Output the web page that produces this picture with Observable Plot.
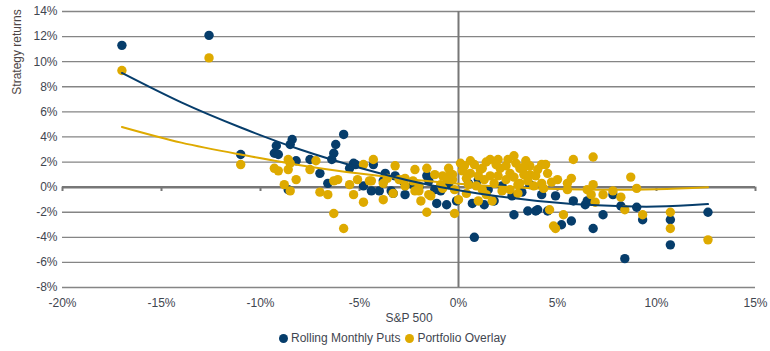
<!DOCTYPE html>
<html>
<head>
<meta charset="utf-8">
<script src="https://cdn.jsdelivr.net/npm/d3@7"></script>
<script src="https://cdn.jsdelivr.net/npm/@observablehq/plot@0.6"></script>
<style>
  body { margin: 0; background: #fff; font-family: "Liberation Sans", Arial, sans-serif; }
  #wrap { position: relative; width: 770px; height: 351px; }
  #legend { position: absolute; left: 279px; top: 331px; font-size: 12px; color: #3f4650; white-space: nowrap; line-height: 14px; }
  #legend span.sw { display: inline-block; width: 9px; height: 9px; border-radius: 50%; vertical-align: -1px; margin-right: 3px; }
  #legend span.item { margin-right: 5px; }
  #ylabel { position: absolute; left: 17px; top: 52px; transform: translate(-50%, -50%) rotate(-90deg); font-size: 12px; color: #4d4545; white-space: nowrap; line-height: 14px; }
</style>
</head>
<body>
<div id="wrap"><div id="chart"></div>
<div id="ylabel">Strategy returns</div>
<div id="legend"></div></div>
<script>
// S&P 500 monthly return (%) and strategy returns (%)
const navyX = [-17.0,-12.6,-11.0,-9.2,-9.3,-9.1,-8.4,-8.5,-8.2,-7.5,-7.0,-6.6,-6.2,-6.3,-6.4,-5.8,-8.6,-5.3,-5.2,-5.5,-4.3,-4.8,-4.4,-3.7,-3.8,-4.0,-3.4,-3.2,-2.8,-2.7,-2.3,-1.6,-1.5,-1.1,-0.6,-0.1,0.8,1.3,1.8,2.8,3.5,3.9,4.5,4.9,5.2,5.7,5.8,6.4,6.8,7.3,7.8,8.2,8.4,9.0,9.3,10.7,10.7,12.6,2.7,0.7,4.0,-3.3,-0.9,6.5,0.5,1.5,2.2,3.2,4.2,-0.5,-2.0,1.0,3.6,-1.2];
const navyY = [11.3,12.1,2.6,3.3,2.7,2.6,3.8,3.4,2.1,2.2,1.1,0.3,3.4,2.7,2.2,4.2,-0.2,1.9,1.8,1.5,1.8,0.1,-0.3,1.1,0.5,-0.3,-0.3,0.9,0.5,-0.6,0.2,0.9,0.5,-1.3,-1.4,-1.1,-4.0,-1.4,-1.1,-2.2,-1.9,-1.9,-1.9,-0.7,-3.0,-2.7,-1.1,-1.4,-3.3,-2.2,-0.6,-1.5,-5.7,-1.6,-2.6,-2.6,-4.6,-2.0,-0.7,-1.3,-1.8,-0.5,-0.3,-1.1,0.3,-0.2,0.1,-0.4,-0.6,0.2,0.0,0.6,0.2,-0.2];

const goldX = [-17.0,-12.6,-11.0,-9.3,-9.1,-8.6,-8.5,-8.6,-8.8,-8.2,-8.5,-7.5,-7.2,-7.0,-6.6,-6.3,-6.1,-6.3,-5.8,-5.5,-5.3,-5.1,-4.8,-4.3,-4.8,-4.4,-3.8,-3.2,-3.3,-2.8,-2.2,-1.6,-2.0,-1.9,-1.6,-1.4,-0.8,-0.8,-0.4,-0.2,0.1,0.3,0.6,1.0,1.2,1.6,0.6,1.1,2.0,2.1,2.8,3.6,4.2,-0.3,0.4,1.3,1.8,2.4,3.1,3.8,4.2,5.0,0.0,1.7,4.6,4.8,0.4,3.0,1.2,4.4,5.8,6.8,5.5,5.7,5.5,6.5,6.8,6.7,6.9,7.3,7.8,8.2,8.7,9.0,9.3,8.4,5.3,4.9,3.6,3.3,3.0,4.3,3.1,10.7,10.7,12.6,-4.5,-3.8,-3.6,-3.0,-2.7,-2.3,-2.7,-2.2,-2.0,-0.9,-0.6,-0.3,-0.2,-1.5,2.6,3.4,3.9,4.5,2.2,1.6,0.9,2.4,0.8,1.4,2.5,1.9,2.9,3.3,0.2,1.0,2.0,2.8,3.5,4.0,4.7,1.4,2.6,0.5,-0.5,-1.2];
const goldY = [9.3,10.3,1.8,1.5,1.3,2.2,1.9,1.4,0.2,0.6,-0.3,1.4,2.1,-0.4,-0.6,0.5,0.6,-2.1,-3.3,0.2,-0.6,0.6,1.8,2.2,-1.2,0.5,-1.0,1.7,-0.5,0.6,1.4,1.5,-0.3,-1.1,-2.0,-0.7,0.9,-0.1,1.1,-2.1,1.9,1.7,1.1,-1.1,1.5,2.2,2.1,1.4,2.2,1.5,2.5,1.7,1.8,0.6,0.7,0.6,0.3,0.6,0.3,0.1,0.3,0.6,-1.0,-1.1,-1.8,-3.1,-0.5,-0.5,-0.2,1.8,2.2,2.4,0.3,0.7,-0.2,-0.2,0.2,-0.6,-1.2,-0.6,-0.3,-0.8,0.8,-0.1,-2.2,-1.8,-2.2,-3.3,1.0,1.0,0.2,-0.1,1.5,-2.0,-3.3,-4.2,0.5,0.3,0.7,0.6,0.7,0.5,0.1,-0.3,0.1,0.2,0.7,1.0,-0.2,-0.6,1.1,2.1,0.9,1.1,-0.3,0.9,0.1,1.7,1.8,2.0,2.2,1.8,1.9,1.6,1.3,0.9,0.9,0.8,0.5,1.4,0.4,-0.6,-0.2,0.2,1.5,1.0];

// Trend lines
const trendX = [-17, -14, -11, -8, -5, -2, 1, 4, 7, 10, 12.6];
const navyTrend = [9.1, 6.75, 4.75, 3.0, 1.55, 0.35, -0.5, -1.1, -1.45, -1.55, -1.35];
const goldTrend = [4.8, 3.55, 2.6, 1.75, 1.08, 0.55, 0.15, -0.1, -0.2, -0.16, 0.0];

const xTicks = [-20, -15, -10, -5, 0, 5, 10, 15];
const yTicks = [-8, -6, -4, -2, 0, 2, 4, 6, 8, 10, 12, 14];

const seriesNames = ["Rolling Monthly Puts", "Portfolio Overlay"];
const colors = ["#063d6b", "#deaa00"];

const navy = navyX.map((x, i) => ({x, y: navyY[i]}));
const gold = goldX.map((x, i) => ({x, y: goldY[i]}));
const navyLine = trendX.map((x, i) => ({x, y: navyTrend[i]}));
const goldLine = trendX.map((x, i) => ({x, y: goldTrend[i]}));
const pct = d => d + "%";
const labelColor = "#3f4650";

const chart = Plot.plot({
  width: 770,
  height: 325,
  marginTop: 11,
  marginLeft: 62,
  marginRight: 15,
  marginBottom: 38,
  style: {fontFamily: "'Liberation Sans', Arial, sans-serif", fontSize: "12px", color: labelColor, background: "#fff"},
  x: {domain: [-20, 15]},
  y: {domain: [-8, 14]},
  marks: [
    Plot.ruleY(yTicks, {stroke: "#858585", strokeWidth: 1.3}),
    Plot.ruleX([0], {stroke: "#777", strokeWidth: 2}),
    Plot.ruleY([0], {stroke: "#777", strokeWidth: 2.5}),
    Plot.ruleX(xTicks, {y1: 0, y2: -0.35, stroke: "#777", strokeWidth: 2}),
    Plot.axisX({ticks: xTicks, tickFormat: pct, tickSize: 0, tickPadding: 11, label: null}),
    Plot.axisY({ticks: yTicks, tickFormat: pct, tickSize: 0, tickPadding: 5, label: null}),
    Plot.dot(navy, {x: "x", y: "y", r: 4.7, fill: colors[0]}),
    Plot.dot(gold, {x: "x", y: "y", r: 4.7, fill: colors[1]}),
    Plot.line(goldLine, {x: "x", y: "y", stroke: colors[1], strokeWidth: 2, curve: "natural"}),
    Plot.line(navyLine, {x: "x", y: "y", stroke: colors[0], strokeWidth: 2, curve: "natural"}),
    Plot.text(["S&P 500"], {frameAnchor: "bottom", dy: 34, fill: labelColor, fontSize: 12})
  ]
});
document.getElementById("chart").appendChild(chart);

const legend = document.getElementById("legend");
seriesNames.forEach((name, i) => {
  const item = document.createElement("span");
  item.className = "item";
  const sw = document.createElement("span");
  sw.className = "sw";
  sw.style.background = colors[i];
  item.appendChild(sw);
  item.appendChild(document.createTextNode(name));
  legend.appendChild(item);
});
</script>
</body>
</html>
